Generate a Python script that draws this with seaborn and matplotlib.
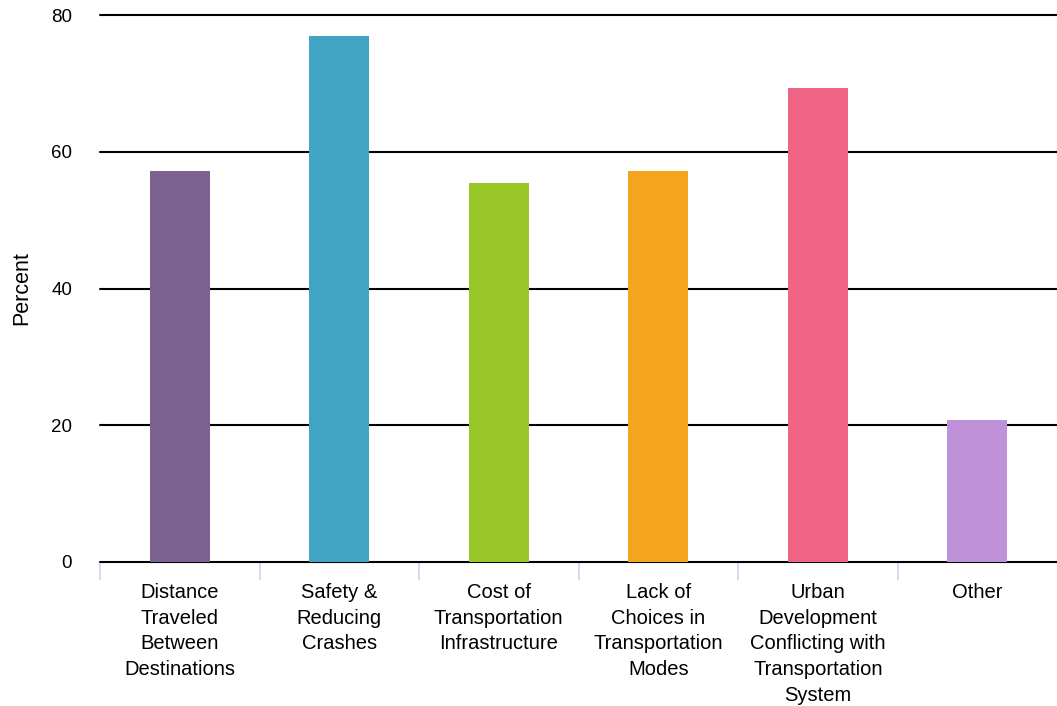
"""
transportation concerns bar chart
"""

import matplotlib

matplotlib.use("Agg")
import matplotlib.pyplot as plt
import pandas as pd
import seaborn as sns

########
# Data #
########

categories = [
    "Distance\nTraveled\nBetween\nDestinations",
    "Safety &\nReducing\nCrashes",
    "Cost of\nTransportation\nInfrastructure",
    "Lack of\nChoices in\nTransportation\nModes",
    "Urban\nDevelopment\nConflicting with\nTransportation\nSystem",
    "Other",
]
percent = [57.2, 76.9, 55.4, 57.2, 69.3, 20.8]
colors = ["#7B6290", "#40A4C2", "#97C626", "#F4A51D", "#EF6485", "#BF91D8"]
yticks = [0, 20, 40, 60, 80]

df = pd.DataFrame({"category": categories, "percent": percent})

#########
# Plots #
#########

sns.set_style("white")
plt.rcParams["font.family"] = ["Liberation Sans", "DejaVu Sans"]
plt.rcParams["text.color"] = "black"
plt.rcParams["axes.labelcolor"] = "black"
plt.rcParams["xtick.color"] = "black"
plt.rcParams["ytick.color"] = "black"

fig = plt.figure(figsize=(10.57, 7.06), dpi=100)
ax = fig.add_axes([100 / 1057, 1 - 562 / 706, 1 - 100 / 1057, 547 / 706])

sns.barplot(
    data=df,
    x="category",
    y="percent",
    hue="category",
    palette=colors,
    legend=False,
    width=0.375,
    saturation=1,
    linewidth=0,
    edgecolor="none",
    ax=ax,
    zorder=3,
)

ax.set_xlim(-0.5, len(categories) - 0.5)
ax.set_ylim(0, 80)
ax.set_yticks(yticks)
for y in yticks:
    ax.axhline(y, color="black", lw=1.5, zorder=2, clip_on=False)

for side in ["top", "right", "left", "bottom"]:
    ax.spines[side].set_visible(False)

ax.set_xticks(range(len(categories)))
ax.set_xticklabels(categories, linespacing=1.45)
ax.set_xticks([i - 0.5 for i in range(len(categories))], minor=True)
ax.tick_params(axis="y", length=0, pad=20, labelsize=13.5, labelcolor="black")
ax.tick_params(
    axis="x", which="major", bottom=True, length=0, pad=15, labelsize=14.5,
    labelcolor="black",
)
ax.tick_params(
    axis="x", which="minor", bottom=True, length=13, width=1.2,
    color="#C9D5EA", direction="out",
)

ax.set_xlabel("")
ax.set_ylabel("Percent", fontsize=15.5, labelpad=14, color="black")

fig.savefig("out.png", dpi=100)
